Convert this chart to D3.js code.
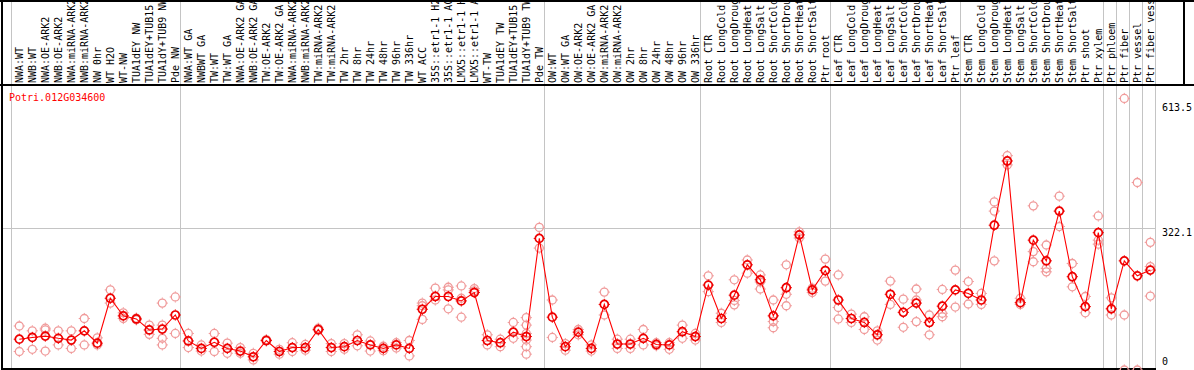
<!DOCTYPE html>
<html>
<head>
<meta charset="utf-8">
<script src="https://cdn.jsdelivr.net/npm/d3@7"></script>
<style>
  body { margin: 0; background: #fff; }
  svg { display: block; }
  text { font-family: "DejaVu Sans Mono", monospace; font-size: 10px; }
</style>
</head>
<body>
<div id="chart"></div>
<script>
var geneId = "Potri.012G034600";

// sample names as far as the header shows them
var labels = [
  "NWA:WT", "NWB:WT", "NWA:OE-ARK2", "NWB:OE-ARK2", "NWA:miRNA-ARK2", "NWB:miRNA-ARK2",
  "NW 0hr", "WT H2O", "WT-NW", "TUA1dEY NW", "TUA1dEY+TUB15", "TUA1dY+TUB9 NW", "Pde NW",
  "NWA:WT GA", "NWBWT GA", "TW:WT", "TW:WT GA", "NWA:OE-ARK2 GA", "NWB:OE-ARK2 GA",
  "TW:OE-ARK2", "TW:OE-ARK2 GA", "NWA:miRNA-ARK2", "NWB:miRNA-ARK2", "TW:miRNA-ARK2", "TW:miRNA-ARK2",
  "TW 2hr", "TW 8hr", "TW 24hr", "TW 48hr", "TW 96hr", "TW 336hr", "WT ACC",
  "35S::etr1-1 H2", "35S::etr1-1 AC", "LMX5::etr1-1 H", "LMX5::etr1-1 A",
  "WT-TW", "TUA1dEY TW", "TUA1dEY+TUB15", "TUA1dY+TUB9 TW", "Pde TW",
  "OW:WT", "OW:WT GA", "OW:OE-ARK2", "OW:OE-ARK2 GA", "OW:miRNA-ARK2", "OW:miRNA-ARK2",
  "OW 2hr", "OW 8hr", "OW 24hr", "OW 48hr", "OW 96hr", "OW 336hr",
  "Root CTR", "Root LongCold", "Root LongDroug", "Root LongHeat", "Root LongSalt",
  "Root ShortCold", "Root ShortDrou", "Root ShortHeat", "Root ShortSalt", "Ptr root",
  "Leaf CTR", "Leaf LongCold", "Leaf LongDroug", "Leaf LongHeat", "Leaf LongSalt",
  "Leaf ShortCold", "Leaf ShortDrou", "Leaf ShortHeat", "Leaf ShortSalt", "Ptr leaf",
  "Stem CTR", "Stem LongCold", "Stem LongDroug", "Stem LongHeat", "Stem LongSalt",
  "Stem ShortCold", "Stem ShortDrou", "Stem ShortHeat", "Stem ShortSalt", "Ptr shoot", "Ptr xylem",
  "Ptr phloem", "Ptr fiber", "Ptr vessel", "Ptr fiber vess"
];

// mean expression per sample
var means = [
  70, 74, 77, 72, 68, 89, 61, 163, 123, 116, 91, 93, 125,
  66, 49, 63, 49, 43, 30, 67, 42, 51, 51, 92, 51, 53, 67, 57, 49, 57, 49, 138,
  167, 167, 157, 176, 67, 62, 86, 76, 299,
  120, 53, 86, 49, 149, 59, 59, 72, 58, 57, 87, 76,
  193, 117, 170, 239, 205, 123, 187, 307, 182, 226,
  159, 117, 108, 80, 172, 131, 152, 108, 145, 182,
  174, 159, 329, 475, 153, 295, 248, 361, 212, 144, 312,
  139, 248, 214, 227
];

// replicate values per sample
var replicates = [
  [100, 42], [89, 47], [95, 91, 43], [89, 57], [89, 49], [117, 57], [73, 57],
  [182, 152], [130, 117], [118, 114], [102, 81], [152, 102, 72, 57], [166, 83],
  [83, 51], [57, 43], [83, 42], [61, 38], [51, 38], [38, 23], [69, 66], [47, 36],
  [62, 42], [58, 45], [95, 90], [60, 42], [60, 47], [80, 55], [66, 43], [54, 44],
  [62, 50], [67, 32], [152, 146, 115], [186, 159, 168], [188, 182, 139],
  [191, 163, 120], [185, 180], [80, 57], [70, 53], [108, 72],
  [119, 102, 83, 68, 53, 36], [324, 277],
  [159, 74], [60, 45], [92, 80], [57, 43], [177, 125], [70, 49], [70, 49],
  [92, 57], [62, 55], [62, 47], [102, 72], [83, 68],
  [214, 178], [129, 108], [205, 148, 158], [250, 220], [216, 184, 200],
  [159, 110, 96], [239, 172, 146], [314, 300], [186, 176], [252, 202],
  [216, 142, 116], [127, 108], [121, 92], [89, 68], [202, 149], [161, 97],
  [184, 159, 110], [125, 80], [183, 129, 121], [227, 143],
  [201, 150], [174, 149], [382, 361, 248], [487, 466], [163, 149],
  [373, 269, 246], [284, 231, 223], [395, 326], [242, 189], [167, 130],
  [350, 295, 286],
  [164, 125], [617, 125, 0], [426, 0], [290, 235, 168]
];

// sample index where each tissue group starts (last = end)
var groupStarts = [0, 13, 41, 53, 63, 73, 84, 85, 86, 87, 88];

var yTicks = [613.5, 322.1, 0];

var width = 1194, height = 370;
var headerH = 85, plotBottom = 369, plotRight = 1156;

var svg = d3.select("#chart").append("svg")
  .attr("width", width)
  .attr("height", height);

var x = d3.scaleBand()
  .domain(d3.range(labels.length))
  .range([11.3, 1155.3])
  .padding(0);

var y = d3.scaleLinear()
  .domain([0, 613.5])
  .range([370, 100]);

function cx(i){ return x(i) + 8; }

// group separators
svg.append("g")
  .selectAll("line")
  .data(groupStarts)
  .enter()
  .append("line")
  .attr("x1", function(d){ return Math.round(d < labels.length ? x(d) : x.range()[1]) + 0.5; })
  .attr("x2", function(d){ return Math.round(d < labels.length ? x(d) : x.range()[1]) + 0.5; })
  .attr("y1", 0)
  .attr("y2", plotBottom)
  .attr("stroke", "#c4c4c4")
  .attr("stroke-width", 1);

// horizontal grid at middle tick
svg.append("line")
  .attr("x1", 1).attr("x2", plotRight)
  .attr("y1", Math.round(y(322.1)) + 0.5).attr("y2", Math.round(y(322.1)) + 0.5)
  .attr("stroke", "#c4c4c4");

// frame
var frame = svg.append("g").attr("stroke", "#000").attr("stroke-width", 2);
frame.append("line").attr("x1", 0).attr("x2", width).attr("y1", 1).attr("y2", 1);
frame.append("line").attr("x1", 0).attr("x2", width).attr("y1", headerH).attr("y2", headerH);
frame.append("line").attr("x1", 2).attr("x2", 2).attr("y1", 0).attr("y2", plotBottom + 1);
frame.append("line").attr("x1", 1184).attr("x2", 1184).attr("y1", 0).attr("y2", headerH);
frame.append("line").attr("x1", 1).attr("x2", plotRight).attr("y1", plotBottom).attr("y2", plotBottom);

// sample labels
svg.append("g")
  .selectAll("text")
  .data(labels)
  .enter()
  .append("text")
  .attr("transform", function(d, i){
    return "translate(" + (cx(i) + 3.5) + "," + (headerH - 2) + ") rotate(-90)";
  })
  .attr("fill", "#000")
  .text(function(d){ return d; });

// y tick labels
svg.append("g")
  .selectAll("text")
  .data(yTicks)
  .enter()
  .append("text")
  .attr("x", 1162)
  .attr("y", function(d, i){ return y(d) + [11, 8, -5][i]; })
  .attr("fill", "#000")
  .text(function(d){ return d; });

svg.append("text")
  .attr("x", 9)
  .attr("y", 101)
  .attr("fill", "#ff0000")
  .text(geneId);

var ticks = "M0,-5.6V-4.3M0,4.3V5.6M-5.6,0H-4.3M4.3,0H5.6";

// replicate markers
var reps = [];
replicates.forEach(function(r, i){
  r.forEach(function(v){ reps.push([i, v]); });
});

var repG = svg.append("g")
  .selectAll("g")
  .data(reps)
  .enter()
  .append("g")
  .attr("transform", function(d){ return "translate(" + cx(d[0]) + "," + y(d[1]) + ")"; })
  .attr("stroke", "#f09a9a");
repG.append("circle")
  .attr("r", 4)
  .attr("fill", "none")
  .attr("stroke-width", 1.3);
repG.append("path")
  .attr("d", ticks)
  .attr("stroke-width", 1);

// mean line
var line = d3.line()
  .x(function(d, i){ return cx(i); })
  .y(function(d){ return y(d); });

svg.append("path")
  .datum(means)
  .attr("d", line)
  .attr("fill", "none")
  .attr("stroke", "#ff0000")
  .attr("stroke-width", 1.1);

var meanG = svg.append("g")
  .selectAll("g")
  .data(means)
  .enter()
  .append("g")
  .attr("transform", function(d, i){ return "translate(" + cx(i) + "," + y(d) + ")"; })
  .attr("stroke", "#ee0000");
meanG.append("circle")
  .attr("r", 4)
  .attr("fill", "none")
  .attr("stroke-width", 1.7);
meanG.append("path")
  .attr("d", ticks)
  .attr("stroke-width", 1);
</script>
</body>
</html>
